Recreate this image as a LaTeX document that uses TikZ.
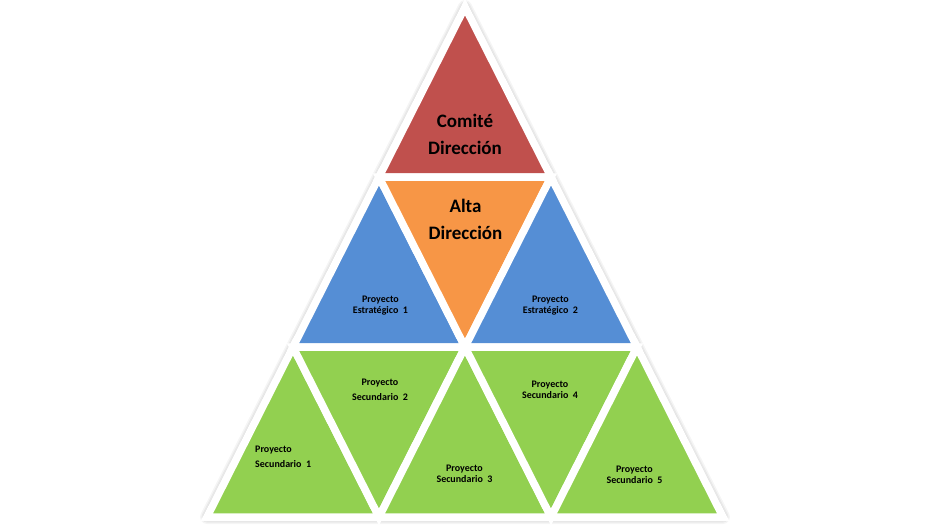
\documentclass[tikz,border=0pt]{standalone}
\usepackage{fontspec}
\setmainfont{Carlito}
\definecolor{cred}{HTML}{C0504D}
\definecolor{corange}{HTML}{F79646}
\definecolor{cblue}{HTML}{558ED5}
\definecolor{cgreen}{HTML}{92D050}
\begin{document}
\begin{tikzpicture}[x=1pt,y=-1pt,
  tri/.style={draw=white, line width=7.5pt, line join=miter},
  bigtxt/.style={font=\bfseries\fontsize{19}{27.5}\selectfont, align=center, inner sep=0pt, text=black},
  smalltxt/.style={font=\bfseries\fontsize{10}{11}\selectfont, align=center, inner sep=0pt, text=black},
  widetxt/.style={font=\bfseries\fontsize{10}{15}\selectfont, inner sep=0pt, text=black}]
\useasboundingbox (0,0) rectangle (931,531);
% lattice points
\coordinate (A) at (465,7);
\coordinate (B1) at (379,177);
\coordinate (B2) at (551,177);
\coordinate (C1) at (293,347);
\coordinate (C2) at (465,347);
\coordinate (C3) at (637,347);
\coordinate (D1) at (207,517);
\coordinate (D2) at (379,517);
\coordinate (D3) at (551,517);
\coordinate (D4) at (723,517);
% soft shadow
\begin{scope}[shift={(2,3)}]
  \foreach \w/\o in {14/0.04, 11/0.05, 8/0.07, 5/0.09, 2/0.10}
    \draw[black, line width=\w pt, draw opacity=\o, line join=round] (A) -- (D1) -- (D4) -- cycle;
\end{scope}
% triangles
\path[tri, fill=cred] (A) -- (B1) -- (B2) -- cycle;
\path[tri, fill=cblue] (B1) -- (C1) -- (C2) -- cycle;
\path[tri, fill=corange] (B1) -- (B2) -- (C2) -- cycle;
\path[tri, fill=cblue] (B2) -- (C2) -- (C3) -- cycle;
\path[tri, fill=cgreen] (C1) -- (D1) -- (D2) -- cycle;
\path[tri, fill=cgreen] (C1) -- (C2) -- (D2) -- cycle;
\path[tri, fill=cgreen] (C2) -- (D2) -- (D3) -- cycle;
\path[tri, fill=cgreen] (C2) -- (C3) -- (D3) -- cycle;
\path[tri, fill=cgreen] (C3) -- (D3) -- (D4) -- cycle;
% labels
\node[bigtxt] (comite) at (465,134.5) {Comité\\Dirección};
\node[bigtxt] (alta) at (465.5,219.5) {Alta\\Dirección};
\node[smalltxt] (pe1) at (380.5,306) {Proyecto\\Estratégico\ \ 1};
\node[smalltxt] (pe2) at (550.5,305.5) {Proyecto\\Estratégico\ \ 2};
\node[widetxt, align=left, anchor=west] (ps1) at (255,457) {Proyecto\\Secundario\ \ 1};
\node[widetxt, align=center] (ps2) at (380,390) {Proyecto\\Secundario\ \ 2};
\node[smalltxt] (ps3) at (464.5,474) {Proyecto\\Secundario\ \ 3};
\node[smalltxt] (ps4) at (550,390) {Proyecto\\Secundario\ \ 4};
\node[smalltxt] (ps5) at (634.5,474.5) {Proyecto\\Secundario\ \ 5};
\end{tikzpicture}
\end{document}
